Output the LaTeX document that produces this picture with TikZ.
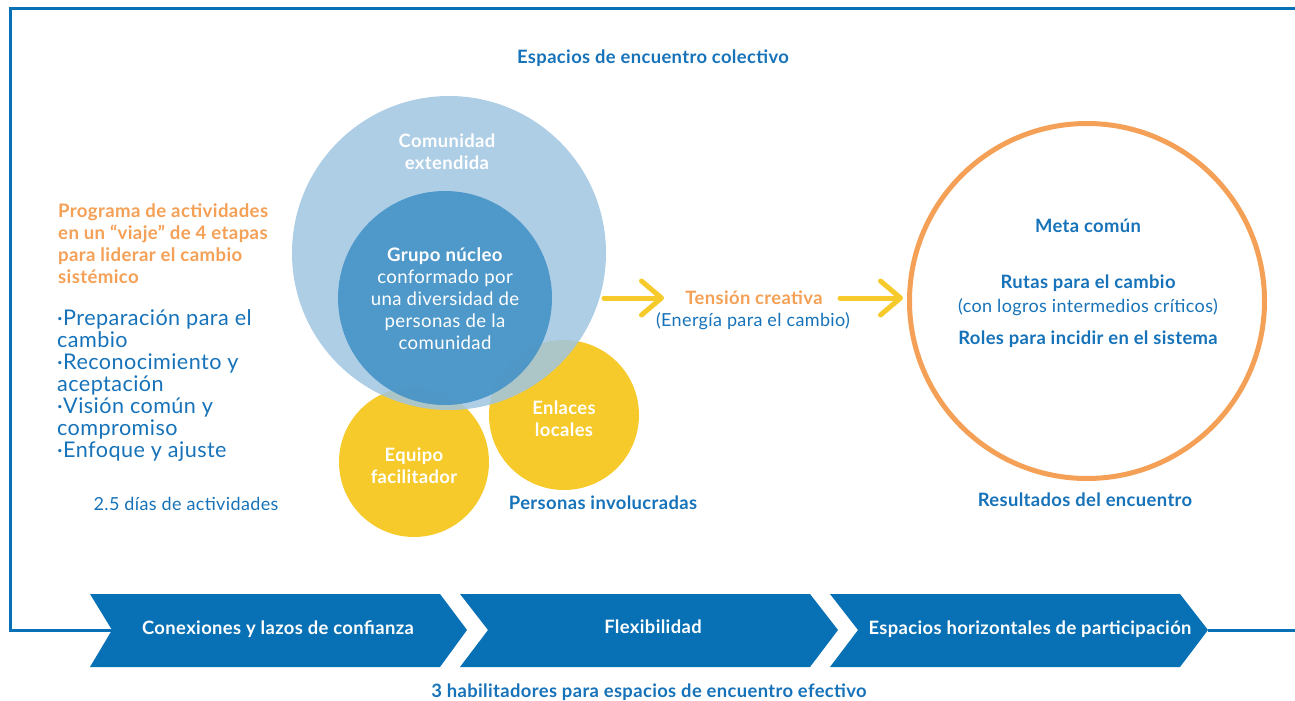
\documentclass[tikz,border=0pt]{standalone}
\usepackage{fontspec}
\setmainfont{Lato}[LetterSpace=2]
\usetikzlibrary{arrows.meta}
\definecolor{dblue}{RGB}{8,112,180}
\definecolor{tblue}{RGB}{22,114,185}
\definecolor{lblue}{RGB}{160,197,226}
\definecolor{mblue}{RGB}{62,144,198}
\definecolor{yel}{RGB}{246,202,43}
\definecolor{orng}{RGB}{244,160,86}
\tikzset{
  txt/.style={inner sep=0pt, align=center},
  bluebold/.style={txt, text=tblue, font=\fontsize{18.4}{22}\selectfont\bfseries},
  bluereg/.style={txt, text=tblue, font=\fontsize{18}{22}\selectfont},
  whitetxt/.style={txt, text=white, font=\fontsize{18.4}{22}\selectfont\bfseries},
  chev/.style={fill=dblue},
  yarrow/.style={draw=yel, line width=5pt, line cap=round, -{Straight Barb[length=20pt,width=34pt,round]}},
}
\begin{document}
\begin{tikzpicture}[x=1pt,y=-1pt]
\useasboundingbox (0,0) rectangle (1295,701);
% frame
\draw[dblue, line width=3pt] (1296,9) -- (10,9) -- (10,630) -- (112,630);
\draw[dblue, line width=3pt] (1208,630) -- (1296,630);
% chevrons
\fill[chev] (90,594) -- (440,594) -- (467,630) -- (440,667) -- (90,667) -- (112,630) -- cycle;
\fill[chev] (460,594) -- (810,594) -- (838,630) -- (810,667) -- (460,667) -- (488,630) -- cycle;
\fill[chev] (830,594) -- (1180,594) -- (1208,630) -- (1180,667) -- (830,667) -- (858,630) -- cycle;
\node[whitetxt] (c1) at (278,629) {Conexiones y lazos de confianza};
\node[whitetxt] (c2) at (653,627) {Flexibilidad};
\node[whitetxt] (c3) at (1030,629) {Espacios horizontales de participación};
\node[bluebold] (hab) at (649,692) {3 habilitadores para espacios de encuentro efectivo};
% title
\node[bluebold] (title) at (653,58) {Espacios de encuentro colectivo};
% circles
\node[circle, fill=yel, minimum size=150pt, inner sep=0pt] (equipo) at (414,462) {};
\node[circle, fill=yel, minimum size=150pt, inner sep=0pt] (enlaces) at (564,415) {};
\node[circle, fill=lblue, fill opacity=0.85, minimum size=314pt, inner sep=0pt] (comunidad) at (449,253) {};
\node[circle, fill=mblue, fill opacity=0.85, minimum size=214pt, inner sep=0pt] (grupo) at (445,298) {};
\node[whitetxt] at (447,152) {Comunidad\\extendida};
\node[whitetxt] at (564,419) {Enlaces\\locales};
\node[whitetxt] at (414,466) {Equipo\\facilitador};
\node[txt, text=white, font=\fontsize{18.6}{22}\selectfont] at (445,299) {\textbf{Grupo núcleo}\\conformado por\\una diversidad de\\personas de la\\comunidad};
\node[bluebold] (pers) at (603,503) {Personas involucradas};
% left texts
\node[txt, align=left, anchor=west, text=orng, font=\fontsize{18.6}{22}\selectfont\bfseries] (prog) at (58,244) {Programa de actividades\\en un “viaje” de 4 etapas\\para liderar el cambio\\sistémico};
\node[txt, align=left, anchor=west, text=tblue, font=\fontsize{21.6}{22}\selectfont] (lista) at (57,386) {·Preparación para el\\cambio\\·Reconocimiento y\\aceptación\\·Visión común y\\compromiso\\·Enfoque y ajuste};
\node[bluereg] (dias) at (186,504) {2.5 días de actividades};
% tension
\node[txt, text=orng, font=\fontsize{18.4}{22}\selectfont\bfseries] (tension) at (754,298) {Tensión creativa};
\node[bluereg] (energia) at (753,321) {(Energía para el cambio)};
% result ring
\node[circle, draw=orng, line width=5pt, minimum size=355pt, inner sep=0pt] (meta) at (1087,301) {};
\node[bluebold] at (1088,226) {Meta común};
\node[bluebold] at (1088,283) {Rutas para el cambio};
\node[bluereg] at (1088,307) {(con logros intermedios críticos)};
\node[bluebold] at (1088,339) {Roles para incidir en el sistema};
\node[bluebold] (res) at (1085,500) {Resultados del encuentro};
% arrows
\coordinate (a1) at (604,298);
\coordinate (a2) at (840,298);
\coordinate (t1) at (664,298);
\coordinate (t2) at (903,298);
\draw[yarrow] (a1) -- (t1);
\draw[yarrow] (a2) -- (t2);
\end{tikzpicture}
\end{document}
